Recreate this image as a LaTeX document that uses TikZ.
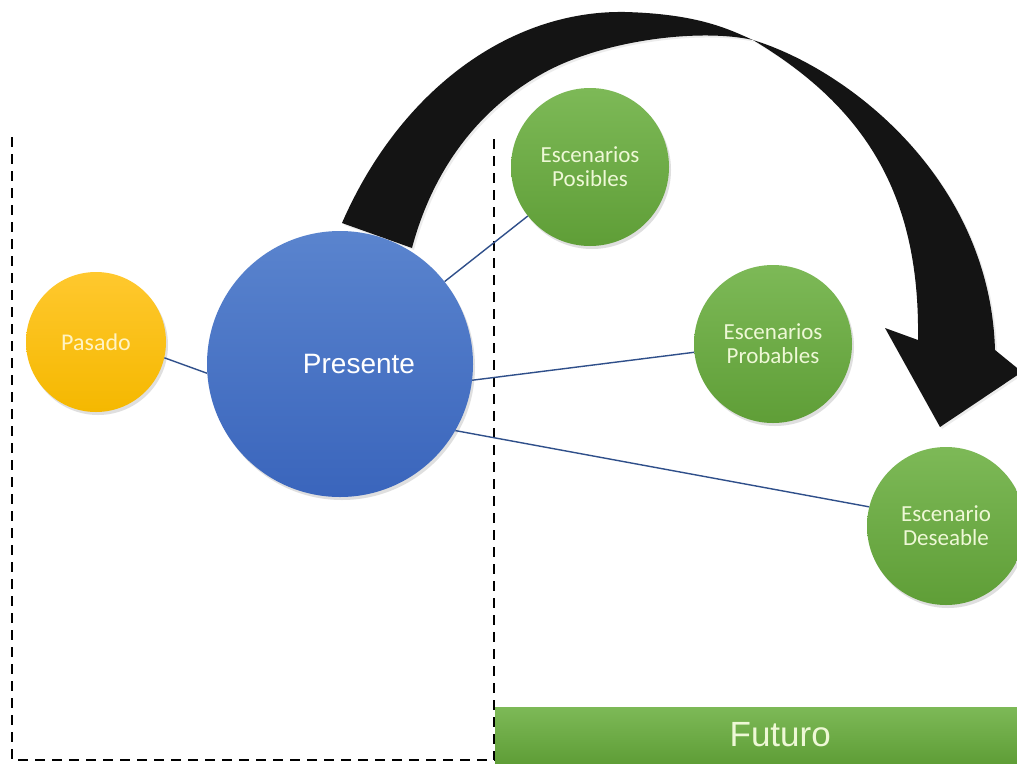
\documentclass[tikz,border=0pt]{standalone}
\usepackage{fontspec}
\usepackage{tikz}
\usetikzlibrary{shapes,arrows,shadows}
\newfontfamily\calfont{Carlito}
\newfontfamily\arialfont{Liberation Sans}
\definecolor{amarillo}{HTML}{F5B800}
\definecolor{amarilloclaro}{HTML}{FFC82E}
\definecolor{azul}{HTML}{3A65BC}
\definecolor{azulclaro}{HTML}{5A84CE}
\definecolor{verde}{HTML}{5F9E37}
\definecolor{verdeclaro}{HTML}{7DB957}
\definecolor{enlacecol}{HTML}{2F4F8A}
\definecolor{textoamarillo}{HTML}{FFF3C4}
\definecolor{textoverde}{HTML}{EEF8D6}
\tikzstyle{circulo} = [circle, inner sep=0pt, align=center, drop shadow={opacity=0.25, shadow xshift=2pt, shadow yshift=-3pt}]
\tikzstyle{pasadobox} = [circulo, minimum size=140pt, top color=amarilloclaro, bottom color=amarillo, text=textoamarillo, font=\calfont\fontsize{24}{26}\selectfont]
\tikzstyle{presentebox} = [circulo, minimum size=266pt, top color=azulclaro, bottom color=azul, text=white, font=\arialfont\fontsize{28}{30}\selectfont]
\tikzstyle{escenariobox} = [circulo, minimum size=158pt, top color=verdeclaro, bottom color=verde, text=textoverde, font=\calfont\fontsize{23}{24}\selectfont]
\tikzstyle{futurobox} = [rectangle, inner sep=0pt, minimum width=570pt, minimum height=56pt, top color=verdeclaro, bottom color=verde, text=textoverde, font=\arialfont\fontsize{35}{37}\selectfont]
\tikzstyle{enlace} = [draw=enlacecol, line width=1.4pt]
\tikzstyle{marco} = [draw=black, line width=2.6pt, dash pattern=on 10pt off 7pt]

\begin{document}
\begin{tikzpicture}[x=1pt, y=-1pt]
\clip (0,0) rectangle (1017,763);
\fill[white] (0,0) rectangle (1017,763);

% flecha curva del presente al escenario deseable
\fill[black!92, drop shadow={opacity=0.15, shadow xshift=2pt, shadow yshift=-2pt}]
  (342,223) .. controls (400,90) and (510,10) .. (625,12)
  .. controls (700,14) and (730,30) .. (753,40)
  .. controls (850,70) and (990,180) .. (995,350)
  -- (1022,372) -- (940,427) -- (885,328) -- (918,340)
  .. controls (920,200) and (870,110) .. (753,40)
  .. controls (700,28) and (600,40) .. (540,75)
  .. controls (470,115) and (430,180) .. (412,248) -- cycle;

\draw[marco] (12,137) -- (12,760) -- (512,760);
\draw[marco] (494,139) -- (494,760);

\node [pasadobox] (pasado) at (96,342) {Pasado};
\node [presentebox] (presente) at (340,364) {\hspace*{38pt}Presente};
\node [escenariobox] (posibles) at (590,167) {Escenarios\\Posibles};
\node [escenariobox] (probables) at (773,344) {Escenarios\\Probables};
\node [escenariobox] (deseable) at (946,526) {Escenario\\Deseable};
\node [futurobox, anchor=west] (futuro) at (495,735) {Futuro};

\draw[enlace] (pasado.-13) -- (presente.-176);
\draw[enlace] (presente) -- (posibles);
\draw[enlace] (presente.-7) -- (probables.-174);
\draw[enlace] (presente.-30) -- (deseable.166);
\end{tikzpicture}
\end{document}
